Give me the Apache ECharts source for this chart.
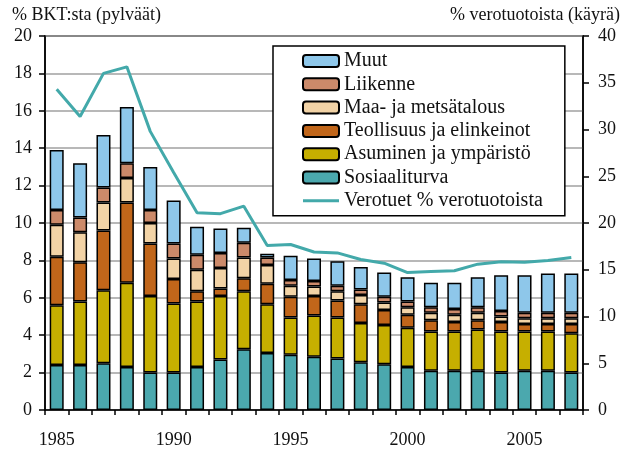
<!DOCTYPE html>
<html>
<head>
<meta charset="utf-8">
<script src="https://cdn.jsdelivr.net/npm/echarts@6/dist/echarts.min.js"></script>
<style>
html,body{margin:0;padding:0;background:#fff;}
#chart{width:626px;height:449px;}
</style>
</head>
<body>
<div id="chart"></div>
<script>
const years = ['1985','1986','1987','1988','1989','1990','1991','1992','1993','1994','1995','1996','1997','1998','1999','2000','2001','2002','2003','2004','2005','2006','2007'];
const xTickLabels = ['1985','1990','1995','2000','2005'];
const leftTicks = [0,2,4,6,8,10,12,14,16,18,20];
const rightTicks = [0,5,10,15,20,25,30,35,40];

const sosiaaliturva = [2.4,2.4,2.5,2.3,2.0,2.0,2.3,2.7,3.25,3.05,2.95,2.85,2.75,2.55,2.45,2.3,2.1,2.1,2.1,2.0,2.1,2.1,2.0];
const asuminen      = [3.2,3.4,3.9,4.5,4.1,3.7,3.5,3.4,3.1,2.6,2.0,2.2,2.2,2.1,2.1,2.1,2.1,2.1,2.2,2.2,2.1,2.1,2.1];
const teollisuus    = [2.6,2.1,3.2,4.3,2.8,1.3,0.55,0.4,0.7,1.1,1.1,1.05,0.9,1.0,0.8,0.7,0.6,0.5,0.5,0.5,0.4,0.4,0.5];
const maatalous     = [1.7,1.6,1.5,1.3,1.1,1.1,1.15,1.1,1.1,1.0,0.6,0.5,0.5,0.5,0.4,0.4,0.4,0.4,0.4,0.3,0.3,0.3,0.3];
const liikenne      = [0.8,0.8,0.8,0.8,0.7,0.8,0.8,0.8,0.8,0.4,0.3,0.3,0.3,0.3,0.3,0.3,0.3,0.3,0.3,0.3,0.3,0.3,0.3];
const muut          = [3.2,2.9,2.8,3.0,2.3,2.3,1.5,1.3,0.8,0.2,1.3,1.2,1.3,1.2,1.3,1.3,1.3,1.4,1.6,1.9,2.0,2.1,2.1];
const verotuet      = [34.3,31.4,36.0,36.7,29.8,25.4,21.1,21.0,21.8,17.6,17.7,16.9,16.8,16.1,15.7,14.7,14.8,14.9,15.6,15.85,15.8,16.0,16.3];

const FONT = '"Liberation Serif", "DejaVu Serif", serif';
const LINE_COLOR = '#43A9AA';
const barSeries = [
  ['Sosiaaliturva', sosiaaliturva, '#4BA8AE'],
  ['Asuminen ja ympäristö', asuminen, '#C6AF00'],
  ['Teollisuus ja elinkeinot', teollisuus, '#C1661A'],
  ['Maa- ja metsätalous', maatalous, '#F2D3A6'],
  ['Liikenne', liikenne, '#CC8A6A'],
  ['Muut', muut, '#8EC7EA']
].map(([name, data, color]) => ({
  name, type: 'bar', stack: 'total', data, barWidth: 14,
  itemStyle: { color, borderColor: '#000', borderWidth: 1.5 },
  emphasis: { disabled: true }
}));

const chart = echarts.init(document.getElementById('chart'));
chart.setOption({
  animation: false,
  textStyle: { fontFamily: FONT },
  grid: { left: 45, right: 43, top: 36, bottom: 38, show: true, borderColor: '#000', borderWidth: 1.5, backgroundColor: 'transparent' },
  legend: {
    orient: 'vertical', left: 273, top: 46,
    padding: [5, 22, 5, 29],
    backgroundColor: '#fff', borderColor: '#000', borderWidth: 1.5,
    itemWidth: 36, itemHeight: 12, itemGap: 3.3,
    textStyle: { fontFamily: FONT, fontSize: 20, color: '#111', lineHeight: 20 },
    data: ['Muut','Liikenne','Maa- ja metsätalous','Teollisuus ja elinkeinot','Asuminen ja ympäristö','Sosiaaliturva',
      { name: 'Verotuet % verotuotoista', icon: 'path://M0,0 L36,0 L36,3 L0,3 Z',
        itemStyle: { color: LINE_COLOR, borderWidth: 0 } }]
  },
  xAxis: {
    type: 'category', data: years, boundaryGap: true,
    axisLine: { lineStyle: { color: '#000', width: 1.5 } },
    axisTick: { show: true, interval: 0, length: 5, lineStyle: { color: '#000', width: 1.5 } },
    axisLabel: {
      interval: 0, margin: 21, fontFamily: FONT, fontSize: 18, color: '#111',
      formatter: v => xTickLabels.includes(v) ? v : ''
    }
  },
  yAxis: [
    {
      type: 'value', min: 0, max: 20, interval: 2, position: 'left',
      axisLine: { show: true, lineStyle: { color: '#000', width: 1.5 } },
      axisTick: { show: true, length: 6, lineStyle: { color: '#000', width: 1.5 } },
      axisLabel: { margin: 13, fontFamily: FONT, fontSize: 18, color: '#111',
        formatter: v => leftTicks.includes(v) ? String(v) : '' },
      splitLine: { show: true, lineStyle: { color: '#a0a0a0', width: 1.5 } }
    },
    {
      type: 'value', min: 0, max: 40, interval: 5, position: 'right',
      axisLine: { show: true, lineStyle: { color: '#000', width: 1.5 } },
      axisTick: { show: true, length: 6, lineStyle: { color: '#000', width: 1.5 } },
      axisLabel: { margin: 15, fontFamily: FONT, fontSize: 18, color: '#111',
        formatter: v => rightTicks.includes(v) ? String(v) : '' },
      splitLine: { show: false }
    }
  ],
  graphic: [
    { type: 'text', left: 12, top: 6, style: { text: '% BKT:sta (pylväät)', font: '18px ' + FONT, fill: '#111' } },
    { type: 'text', right: 6, top: 6, style: { text: '% verotuotoista (käyrä)', font: '18px ' + FONT, fill: '#111' } }
  ],
  series: [
    ...barSeries,
    {
      name: 'Verotuet % verotuotoista', type: 'line', yAxisIndex: 1, data: verotuet,
      symbol: 'none', showSymbol: false, z: 5,
      lineStyle: { color: LINE_COLOR, width: 3 },
      itemStyle: { color: LINE_COLOR },
      emphasis: { disabled: true }
    }
  ]
});
</script>
</body>
</html>
